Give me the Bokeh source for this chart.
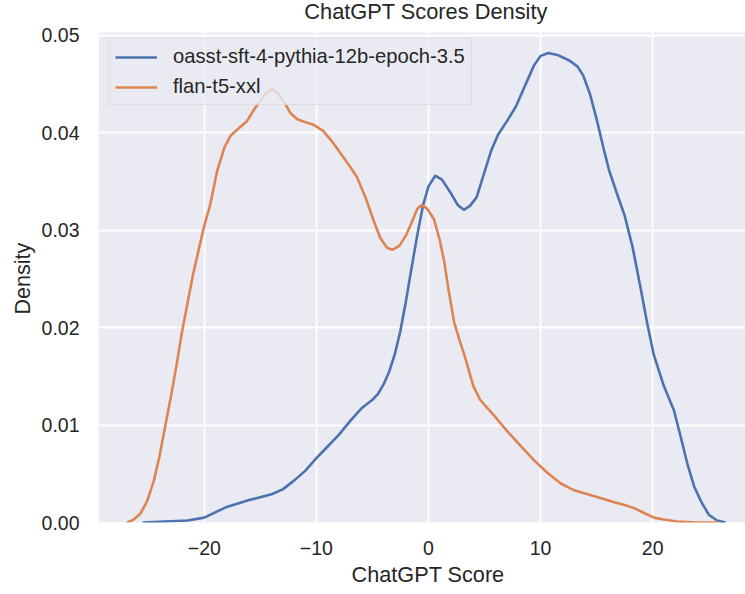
from bokeh.plotting import figure
from bokeh.models import Range1d, FixedTicker, NumeralTickFormatter, Legend, LegendItem, Title, Label
from bokeh.embed import file_html
from bokeh.resources import INLINE

# ---- data ----
series_names = ["oasst-sft-4-pythia-12b-epoch-3.5", "flan-t5-xxl"]

oasst_x = [-25.5, -23.5, -21.5, -20.0, -18.0, -16.0, -14.0, -13.0, -12.0, -11.0,
           -10.0, -9.0, -8.0, -7.0, -6.0, -5.0, -4.5, -4.0, -3.5, -3.0,
           -2.5, -2.0, -1.5, -1.0, -0.5, 0.0, 0.6, 1.2, 2.0, 2.6,
           3.15, 3.7, 4.3, 5.0, 5.6, 6.2, 7.0, 7.8, 8.6, 9.4,
           10.0, 10.7, 11.5, 12.6, 13.3, 13.8, 14.4, 15.0, 15.6, 16.1,
           16.8, 17.5, 18.2, 18.9, 19.5, 20.1, 21.0, 21.9, 22.5, 23.1,
           23.7, 24.3, 25.0, 25.75, 26.5]
oasst_y = [0.0, 0.0001, 0.0002, 0.0005, 0.0016, 0.0023, 0.0029, 0.0034, 0.0043, 0.0053,
           0.0066, 0.0078, 0.0090, 0.0104, 0.0117, 0.0126, 0.0132, 0.0142, 0.0155, 0.0173,
           0.0197, 0.0228, 0.0262, 0.0295, 0.0325, 0.0345, 0.0356, 0.0352, 0.0338, 0.0326,
           0.0321, 0.0325, 0.0334, 0.0360, 0.0382, 0.0398, 0.0412, 0.0427, 0.0448, 0.0469,
           0.0479, 0.0482, 0.0480, 0.0474, 0.0468, 0.0459, 0.0440, 0.0414, 0.0385, 0.0362,
           0.0338, 0.0315, 0.0283, 0.0242, 0.0205, 0.0172, 0.0140, 0.0115, 0.0088, 0.0060,
           0.0037, 0.0022, 0.0008, 0.0002, 0.0]

flan_x = [-26.9, -26.3, -25.7, -25.1, -24.5, -24.0, -23.5, -23.0, -22.5, -22.0,
          -21.0, -20.0, -19.5, -18.85, -18.2, -17.66, -17.0, -16.2, -15.5, -15.0,
          -14.4, -13.95, -13.5, -12.9, -12.3, -11.7, -11.0, -10.2, -9.4, -8.6,
          -7.85, -7.1, -6.4, -5.6, -4.9, -4.3, -3.7, -3.2, -2.6, -2.0,
          -1.5, -1.0, -0.6, -0.1, 0.5, 1.0, 1.4, 1.8, 2.3, 2.8,
          3.2, 4.0, 4.6, 5.3, 6.2, 7.0, 8.2, 9.4, 10.6, 11.8,
          13.0, 14.2, 15.4, 16.5, 17.5, 18.3, 19.2, 20.1, 21.0, 22.2,
          24.0, 25.8]
flan_y = [0.0, 0.0003, 0.0009, 0.0022, 0.0043, 0.0068, 0.0098, 0.0128, 0.0160, 0.0195,
          0.0255, 0.0305, 0.0325, 0.0361, 0.0385, 0.0397, 0.0404, 0.0412, 0.0425, 0.0433,
          0.0442, 0.0445, 0.0441, 0.0432, 0.0420, 0.0414, 0.0411, 0.0408, 0.0402, 0.0391,
          0.0379, 0.0367, 0.0355, 0.0333, 0.0310, 0.0292, 0.0282, 0.0280, 0.0284, 0.0295,
          0.0308, 0.0322, 0.0326, 0.0322, 0.0311, 0.0290, 0.0268, 0.0238, 0.0205, 0.0186,
          0.0172, 0.0140, 0.0126, 0.0117, 0.0105, 0.0094, 0.0079, 0.0064, 0.0051, 0.0040,
          0.0033, 0.0029, 0.0025, 0.0021, 0.0018, 0.0015, 0.0010, 0.0005, 0.0003, 0.0001,
          0.0, 0.0]

x_ticks = [-20, -10, 0, 10, 20]
y_ticks = [0.0, 0.01, 0.02, 0.03, 0.04, 0.05]
title_text = "ChatGPT Scores Density"
x_label = "ChatGPT Score"
y_label = "Density"

# axis limits of the shaded axes area
X_MIN, X_MAX = -29.44, 28.28
Y_MIN, Y_MAX = 0.0, 0.0503

# ---- styling ----
FONT = "Liberation Sans"
TEXT = "#262626"
BLUE = "#4c72b0"
ORANGE = "#dd8452"
PANEL = "#eaeaf2"

# the frame reaches the top of the canvas; the shaded axes area is drawn below the title band
Y_TOP = Y_MAX * 522.0 / 490.0

p = figure(width=745, height=594, output_backend="svg", toolbar_location=None,
           title_location=None,
           x_range=Range1d(X_MIN, X_MAX), y_range=Range1d(Y_MIN, Y_TOP),
           min_border_left=98, min_border_right=0, min_border_top=0, min_border_bottom=72)

p.background_fill_color = "white"
p.border_fill_color = "white"
p.outline_line_color = None

# shaded axes background (seaborn darkgrid style)
p.quad(left=[X_MIN], right=[X_MAX], bottom=[Y_MIN], top=[Y_MAX],
       fill_color=PANEL, line_color=None, level="image")

r1 = p.line(oasst_x, oasst_y, line_color=BLUE, line_width=2.6)
r2 = p.line(flan_x, flan_y, line_color=ORANGE, line_width=2.6)

p.xaxis.ticker = FixedTicker(ticks=x_ticks)
p.xaxis.major_label_overrides = {t: (("\u2212" + str(abs(t))) if t < 0 else str(t)) for t in x_ticks}
p.yaxis.ticker = FixedTicker(ticks=y_ticks)
p.yaxis.formatter = NumeralTickFormatter(format="0.00")

for ax in (p.xaxis, p.yaxis):
    ax.axis_line_color = None
    ax.major_tick_line_color = None
    ax.minor_tick_line_color = None
    ax.major_tick_out = 0
    ax.major_tick_in = 0
    ax.major_label_text_font = FONT
    ax.major_label_text_font_size = "19.5px"
    ax.major_label_text_color = TEXT

p.xaxis.major_label_standoff = 18
p.yaxis.major_label_standoff = 19

p.xgrid.ticker = FixedTicker(ticks=x_ticks)
p.ygrid.ticker = FixedTicker(ticks=y_ticks)
p.grid.grid_line_color = "white"
p.grid.grid_line_width = 1.8

# chart title, in the white band above the shaded area
p.add_layout(Label(x=-0.22, y=Y_MAX + 0.00215, text=title_text, text_align="center",
                   text_baseline="alphabetic", text_font=FONT, text_font_size="21.8px",
                   text_color=TEXT))

# y axis label (placed along the shaded area, not the whole frame)
p.add_layout(Title(text=y_label, align="left", offset=208, standoff=8,
                   vertical_align="bottom",
                   text_font=FONT, text_font_size="21.5px", text_font_style="normal",
                   text_color=TEXT), "left")

# x axis label
p.add_layout(Title(text=x_label, align="left", offset=253, standoff=4,
                   text_font=FONT, text_font_size="21.7px", text_font_style="normal",
                   text_color=TEXT), "below")

legend = Legend(items=[LegendItem(label=series_names[0], renderers=[r1]),
                       LegendItem(label=series_names[1], renderers=[r2])],
                location=(10, 417))
legend.label_text_font = FONT
legend.label_text_font_size = "20.2px"
legend.label_text_color = TEXT
legend.glyph_width = 42
legend.glyph_height = 22
legend.label_height = 22
legend.label_standoff = 16
legend.spacing = 7
legend.padding = 6
legend.margin = 0
legend.background_fill_color = PANEL
legend.background_fill_alpha = 0.8
legend.border_line_color = "#cfcfd6"
legend.border_line_width = 1
p.add_layout(legend)

open("out.html", "w").write(file_html(p, INLINE))
